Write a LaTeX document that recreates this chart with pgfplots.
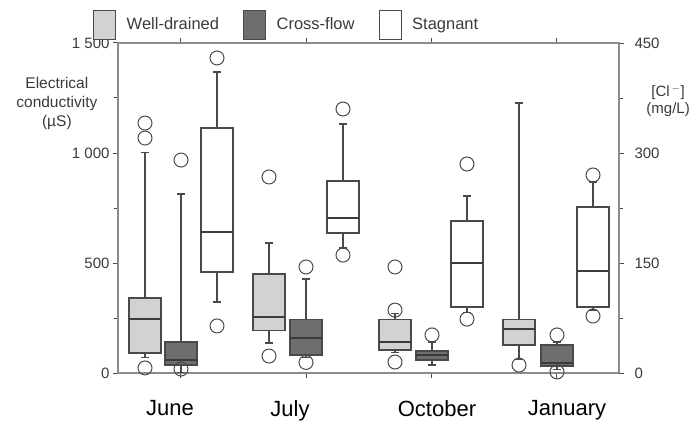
\documentclass[border=0pt]{standalone}
\usepackage{pgfplots}
\pgfplotsset{compat=1.18}
\usepgfplotslibrary{statistics}
\usepackage{fontspec}
\setmainfont{Liberation Sans}
\setsansfont{Liberation Sans}
\definecolor{wd}{HTML}{D2D2D2}
\definecolor{cf}{HTML}{6E6E6E}
\definecolor{ln}{HTML}{4A4A4A}
\definecolor{ax}{HTML}{8C8C8C}
\definecolor{tx}{HTML}{3A3A3A}
\pgfplotsset{
  bxbase/.style={draw=ln, line width=1.2pt, mark=o, mark size=7pt,
    mark options={draw=ln, fill=none, line width=1pt, solid}, forget plot,
    boxplot/draw direction=y, boxplot/box extend=32, boxplot/whisker extend=8,
    boxplot/every median/.style={draw=ln!80!black, line width=1.5pt}},
}
\begin{document}
\begin{tikzpicture}
\begin{axis}[
  scale only axis, width=501pt, height=330pt,
  xmin=118, xmax=619, ymin=0, ymax=1500,
  clip=false,
  axis line style={draw=ax, line width=1.5pt},
  tick align=outside,
  ytick pos=left,
  ytick={0,500,1000,1500}, yticklabels={0,500,1 000,1 500},
  minor ytick={250,750,1250},
  major tick length=5pt, minor tick length=4pt,
  every tick/.style={draw=ln, line width=1pt},
  yticklabel style={font=\fontsize{15}{16}\selectfont, text=tx},
  xtick={181,306,431,556}, xticklabels={},
  xtick pos=both,
  extra x ticks={170,290,437,567},
  extra x tick labels={June,July,October,January},
  extra x tick style={major tick length=0pt, xticklabel style={font=\fontsize{22}{24}\selectfont, text=black, yshift=-24pt}},
  ylabel={Electrical\\conductivity\\(µS)},
  ylabel style={rotate=-90, align=center, font=\fontsize{15.5}{19}\selectfont, text=tx, at={(axis description cs:-0.122,0.818)}, anchor=center},
  legend columns=3,
  legend image code/.code={\draw[#1, line width=1.2pt] (0pt,-14.5pt) rectangle (22pt,14.5pt); \path[draw=none, fill=none] (0pt,0pt) -- (31pt,0pt);},
  legend style={at={(-0.05,1.009)}, anchor=south west, draw=none, fill=none, inner sep=0pt,
    font=\fontsize{16.5}{18}\selectfont, text=tx,
    /tikz/every even column/.append style={column sep=22pt}},
]
\addlegendimage{draw=ln, fill=wd}
\addlegendentry{Well-drained}
\addlegendimage{draw=ln, fill=cf}
\addlegendentry{Cross-flow}
\addlegendimage{draw=ln, fill=white}
\addlegendentry{Stagnant}

% June
\addplot[bxbase, fill=wd, boxplot prepared={draw position=145, lower whisker=70, lower quartile=91, median=245, upper quartile=341, upper whisker=1004}] coordinates {(145,1136) (145,1068) (145,23)};
\addplot[bxbase, fill=cf, boxplot prepared={draw position=181, lower whisker=2, lower quartile=36, median=59, upper quartile=141, upper whisker=814}] coordinates {(181,968) (181,18)};
\addplot[bxbase, fill=white, boxplot prepared={draw position=217, lower whisker=323, lower quartile=459, median=641, upper quartile=1114, upper whisker=1368}] coordinates {(217,1432) (217,214)};
% July
\addplot[bxbase, fill=wd, boxplot prepared={draw position=269, lower whisker=136, lower quartile=195, median=255, upper quartile=450, upper whisker=591}] coordinates {(269,891) (269,77)};
\addplot[bxbase, fill=cf, boxplot prepared={draw position=306, lower whisker=70, lower quartile=82, median=159, upper quartile=245, upper whisker=427}] coordinates {(306,482) (306,48)};
\addplot[bxbase, fill=white, boxplot prepared={draw position=343, lower whisker=568, lower quartile=636, median=705, upper quartile=873, upper whisker=1132}] coordinates {(343,1200) (343,536)};
% October
\addplot[bxbase, fill=wd, boxplot prepared={draw position=395, lower whisker=95, lower quartile=105, median=141, upper quartile=245, upper whisker=270}] coordinates {(395,482) (395,286) (395,50)};
\addplot[bxbase, fill=cf, boxplot prepared={draw position=432, lower whisker=36, lower quartile=59, median=82, upper quartile=100, upper whisker=141}] coordinates {(432,173)};
\addplot[bxbase, fill=white, boxplot prepared={draw position=467, lower whisker=275, lower quartile=300, median=500, upper quartile=691, upper whisker=805}] coordinates {(467,950) (467,245)};
% January
\addplot[bxbase, fill=wd, boxplot prepared={draw position=519, lower whisker=60, lower quartile=127, median=200, upper quartile=245, upper whisker=1227}] coordinates {(519,36)};
\addplot[bxbase, fill=cf, boxplot prepared={draw position=557, lower whisker=15, lower quartile=32, median=45, upper quartile=127, upper whisker=141}] coordinates {(557,173) (557,5)};
\addplot[bxbase, fill=white, boxplot prepared={draw position=593, lower whisker=285, lower quartile=300, median=464, upper quartile=755, upper whisker=868}] coordinates {(593,900) (593,259)};

\coordinate (SW) at (rel axis cs:0,0);
\coordinate (NE) at (rel axis cs:1,1);
\end{axis}
\begin{axis}[
  scale only axis, width=501pt, height=330pt,
  xmin=118, xmax=619, ymin=0, ymax=450,
  axis x line=none, axis y line*=right,
  axis line style={draw=ax, line width=1.5pt, -},
  tick align=outside,
  ytick={0,150,300,450}, yticklabels={0,150,300,450}, minor ytick={75,225,375},
  major tick length=5pt, minor tick length=4pt,
  every tick/.style={draw=ln, line width=1pt},
  yticklabel style={font=\fontsize{15}{16}\selectfont, text=tx, xshift=7pt},
  ylabel={[Cl$^{\,-}$]\\(mg/L)},
  ylabel style={rotate=-90, align=center, font=\fontsize{15}{17}\selectfont, text=tx, at={(axis description cs:1.098,0.824)}, anchor=center},
]
\end{axis}
\path (SW) ++(-118pt,-48pt) coordinate (A);
\path (NE) ++(74pt,43pt) coordinate (B);
\pgfresetboundingbox
\useasboundingbox (A) rectangle (B);
\end{tikzpicture}
\end{document}
